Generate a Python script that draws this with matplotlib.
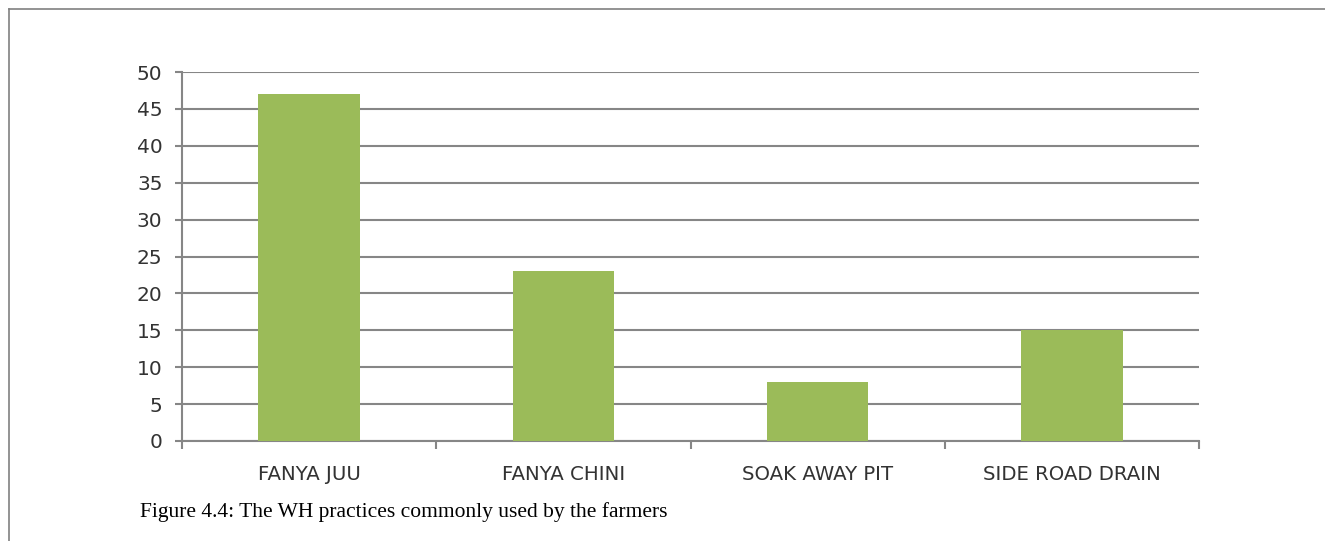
import matplotlib
matplotlib.use('Agg')
import matplotlib.pyplot as plt
import numpy as np
from matplotlib.lines import Line2D

categories = ['FANYA JUU', 'FANYA CHINI', 'SOAK AWAY PIT', 'SIDE ROAD DRAIN']
values = [47, 23, 8, 15]
yticks = [0, 5, 10, 15, 20, 25, 30, 35, 40, 45, 50]
caption = 'Figure 4.4: The WH practices commonly used by the farmers'

grid_col = '#868686'
bar_col = '#9BBB59'

fig = plt.figure(figsize=(13.25, 5.41), dpi=100)
ax = fig.add_axes([182/1325, 1 - 441/541, (1199-182)/1325, (441-72)/541])

ind = np.arange(len(categories))
ax.bar(ind, values, width=0.4, color=bar_col, zorder=3)

ax.set_xlim(-0.5, len(categories) - 0.5)
ax.set_ylim(0, 50)
ax.set_yticks(yticks)
ax.set_yticklabels([str(v) for v in yticks], fontsize=14.5, color='#333333', family='DejaVu Sans')
ax.yaxis.grid(True, color=grid_col, linewidth=1.5, zorder=0)
ax.tick_params(axis='y', length=5, width=1.5, color=grid_col, pad=9)

ax.set_xticks(ind)
ax.set_xticklabels(categories, fontsize=14.2, color='#333333', family='DejaVu Sans')
ax.tick_params(axis='x', which='major', length=0, pad=17)
ax.set_xticks(np.arange(len(categories) + 1) - 0.5, minor=True)
ax.tick_params(axis='x', which='minor', length=6, width=1.5, color=grid_col)

for s in ['top', 'right']:
    ax.spines[s].set_visible(False)
for s in ['left', 'bottom']:
    ax.spines[s].set_color(grid_col)
    ax.spines[s].set_linewidth(1.5)

# page border lines
fig.add_artist(Line2D([9/1325, 1], [1 - 9/541, 1 - 9/541], color='#808080', linewidth=1.2))
fig.add_artist(Line2D([9/1325, 9/1325], [0, 1 - 9/541], color='#808080', linewidth=1.2))

fig.text(140/1325, 1 - 512/541, caption, fontsize=15.5, family='Liberation Serif',
         color='black', va='center', ha='left')

fig.savefig('out.png', dpi=100)
